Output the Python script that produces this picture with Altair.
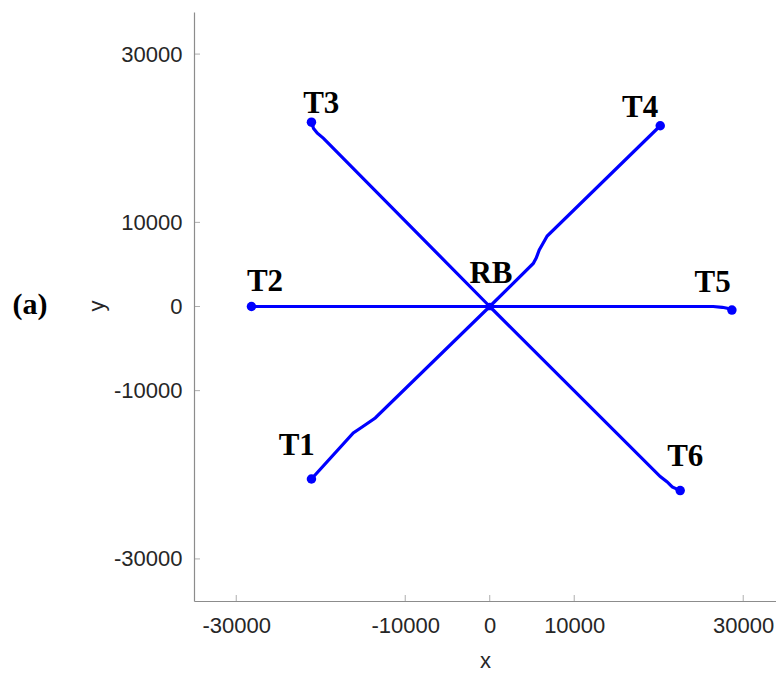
import altair as alt
import pandas as pd

# Trajectories from each target back to the rendezvous base RB at the origin
t1_x = [-21100, -16150, -15100, -13550, 0]
t1_y = [-20500, -15030, -14320, -13250, 0]

t2_x = [-28200, 0]
t2_y = [0, 0]

t3_x = [-21100, -20850, -20400, -19670, 0]
t3_y = [21900, 21170, 20600, 19980, 0]

t4_x = [20180, 6800, 6330, 5860, 5500, 5150, 0]
t4_y = [21480, 8380, 7540, 6710, 5760, 5110, 0]

t5_x = [28660, 28110, 27520, 26450, 0]
t5_y = [-420, -210, -95, 0, 0]

t6_x = [22540, 21600, 20970, 20180, 0]
t6_y = [-21880, -21450, -20820, -20220, 0]

tracks = {"T1": (t1_x, t1_y), "T2": (t2_x, t2_y), "T3": (t3_x, t3_y),
          "T4": (t4_x, t4_y), "T5": (t5_x, t5_y), "T6": (t6_x, t6_y)}

# Label names and their positions
label_names = ["T1", "T2", "T3", "T4", "T5", "T6", "RB"]
label_x = [-22840, -26600, -19940, 17810, 26390, 23140, 150]
label_y = [-16570, 2950, 24060, 23580, 2850, -17850, 3900]

tick_values = [-30000, -10000, 0, 10000, 30000]

rows = []
for name, (xs, ys) in tracks.items():
    for i, (xv, yv) in enumerate(zip(xs, ys)):
        rows.append({"track": name, "step": i, "x": xv, "y": yv})
path_df = pd.DataFrame(rows)
start_df = path_df[path_df["step"] == 0]
label_df = pd.DataFrame({"name": label_names, "x": label_x, "y": label_y})
tick_df = pd.DataFrame({"v": tick_values})
panel_df = pd.DataFrame({"tag": ["(a)"]})

W, H = 582, 589
xscale = alt.Scale(domain=[-35000, 33880], nice=False, zero=False)
yscale = alt.Scale(domain=[-35000, 35000], nice=False, zero=False)

axis_common = dict(
    values=tick_values, labelExpr="toString(datum.value)", grid=False, tickSize=0,
    domainColor="#8c8c8c", domainWidth=1.2,
    labelColor="#262626", labelFont="Liberation Sans", labelFontSize=22,
    titleColor="#262626", titleFont="Liberation Sans", titleFontSize=22,
    titleFontWeight="normal",
)

base = alt.Chart(path_df)

lines = base.mark_line(color="#0000ff", strokeWidth=3.2).encode(
    x=alt.X("x:Q", scale=xscale,
            axis=alt.Axis(title="x", labelPadding=14, titlePadding=14, **axis_common)),
    y=alt.Y("y:Q", scale=yscale,
            axis=alt.Axis(title="y", labelPadding=12, titleX=-98, titleY=H / 2 - 1,
                          titleAngle=-90, titleBaseline="middle", titleAlign="center",
                          **axis_common)),
    detail="track:N",
    order="step:Q",
)

dots = alt.Chart(start_df).mark_circle(color="#0000ff", size=90, opacity=1).encode(
    x=alt.X("x:Q", scale=xscale), y=alt.Y("y:Q", scale=yscale)
)

center = alt.Chart(pd.DataFrame({"x": [0], "y": [0]})).mark_circle(
    color="#0000ff", size=60, opacity=1
).encode(x=alt.X("x:Q", scale=xscale), y=alt.Y("y:Q", scale=yscale))

labels = alt.Chart(label_df).mark_text(
    font="Liberation Serif", fontWeight="bold", fontSize=31, color="black",
    align="center", baseline="middle",
).encode(x=alt.X("x:Q", scale=xscale), y=alt.Y("y:Q", scale=yscale), text="name:N")

# Inward tick marks along both axes
xticks = alt.Chart(tick_df).mark_tick(color="#8c8c8c", size=6, thickness=1).encode(
    x=alt.X("v:Q", scale=xscale), y=alt.value(H - 3)
)
yticks = alt.Chart(tick_df).mark_tick(color="#8c8c8c", size=6, thickness=1).encode(
    y=alt.Y("v:Q", scale=yscale), x=alt.value(3)
)

panel = alt.Chart(panel_df).mark_text(
    font="Liberation Serif", fontWeight="bold", fontSize=30, color="black",
    align="center", baseline="middle",
).encode(x=alt.value(-164), y=alt.value(293), text="tag:N")

chart = alt.layer(lines, dots, center, labels, xticks, yticks, panel).properties(
    width=W, height=H,
    autosize=alt.AutoSizeParams(type="none"),
    padding={"left": 194, "top": 12, "right": 0, "bottom": 72},
).configure_view(stroke=None)

chart.save("out.html", embed_options={"renderer": "svg", "actions": False})
